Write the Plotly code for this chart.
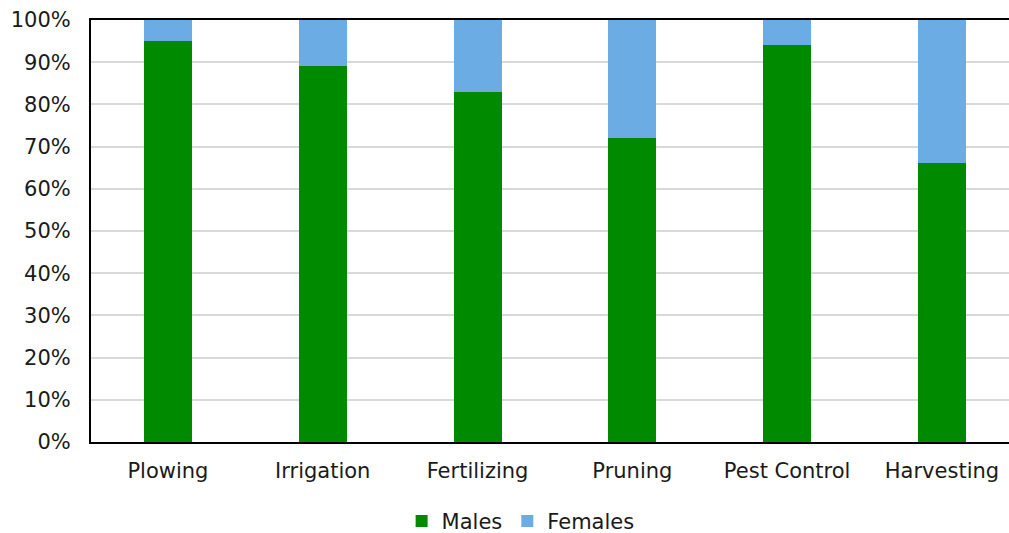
import plotly.graph_objects as go

categories = ["Plowing", "Irrigation", "Fertilizing", "Pruning", "Pest Control", "Harvesting"]
males = [95, 89, 83, 72, 94, 66]
females = [5, 11, 17, 28, 6, 34]

FONT = "DejaVu Sans, Verdana, sans-serif"

fig = go.Figure()
fig.add_trace(go.Bar(name="Males", x=categories, y=males, marker=dict(color="#008A00", line=dict(width=0))))
fig.add_trace(go.Bar(name="Females", x=categories, y=females, marker=dict(color="#6AACE3", line=dict(width=0))))

fig.update_layout(
    barmode="stack",
    bargap=0.69,
    width=1009,
    height=533,
    margin=dict(l=91, r=0, t=20, b=91),
    paper_bgcolor="white",
    plot_bgcolor="white",
    font=dict(family=FONT, size=21, color="#1a1a1a"),
    legend=dict(
        orientation="h",
        x=0.468, xanchor="center",
        yref="container", y=0.022, yanchor="middle",
        font=dict(size=21),
        itemwidth=30,
        traceorder="normal",
    ),
    xaxis=dict(
        range=[-0.497, 5.433],
        showline=True, linecolor="black", linewidth=2, mirror=True,
        ticks="", ticklabelstandoff=9, tickfont=dict(size=21),
    ),
    yaxis=dict(
        range=[0, 100], dtick=10, ticksuffix="%",
        showline=True, linecolor="black", linewidth=2,
        showgrid=True, gridcolor="#d9d9d9", gridwidth=2,
        ticks="", ticklabelstandoff=14,
        tickfont=dict(size=21), zeroline=False,
    ),
)

fig.write_html("out.html")
